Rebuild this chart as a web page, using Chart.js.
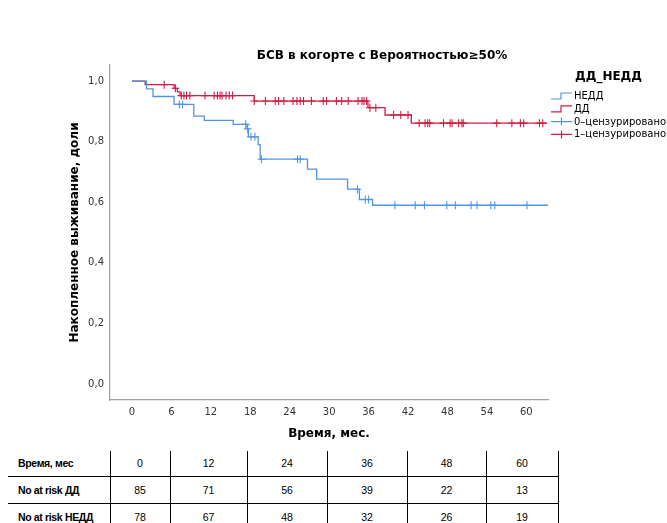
<!DOCTYPE html>
<html>
<head>
<meta charset="utf-8">
<script src="https://cdn.jsdelivr.net/npm/chart.js@4/dist/chart.umd.min.js"></script>
<style>
  html, body { margin: 0; padding: 0; background: #fff; }
  #page { position: relative; width: 667px; height: 523px; overflow: hidden; }
  #box { position: absolute; left: 0; top: 0; width: 667px; height: 448px; }
  #risk { position: absolute; left: 8px; top: 451px; border-collapse: collapse; table-layout: fixed;
          font-family: "Liberation Sans Narrow", "Liberation Sans", sans-serif;
          font-size: 10.5px; color: #000; }
  #risk td { padding: 0; text-align: center; border-left: 1.5px solid #000; border-bottom: 1.5px solid #000;
             box-sizing: border-box; white-space: nowrap; }
  #risk td:first-child { text-align: left; padding-left: 10px; font-weight: bold; border-left: none;
                         letter-spacing: -0.35px; }
  #risk td:last-child { border-right: 1.5px solid #000; }
  #risk tr:last-child td { border-bottom: none; }
</style>
</head>
<body>
<div id="page">
  <div id="box"><canvas id="km"></canvas></div>
  <table id="risk"></table>
</div>
<script>
// Kaplan–Meier curves: event times and survival after each step
const timeTicks = [0, 6, 12, 18, 24, 30, 36, 42, 48, 54, 60];
const survTicks = [0, 0.2, 0.4, 0.6, 0.8, 1.0];

const ddTimes = [0, 2.0, 6.4, 6.9, 7.3, 18.6, 35.9, 38.5, 42.5, 63.1];
const ddSurv  = [1, 0.988, 0.976, 0.964, 0.952, 0.934, 0.912, 0.888, 0.861, 0.861];
const ddCensored = [4.9, 6.6, 7.5, 7.9, 8.3, 8.8, 11.1, 12.5, 13.0, 13.4, 13.7, 14.3, 14.8, 15.3,
  18.6, 20.3, 21.8, 22.3, 23.1, 24.5, 25.1, 25.6, 26.1, 27.3, 29.1, 29.6, 31.1, 31.9, 32.9,
  34.4, 35.0, 35.3, 35.7, 36.2, 37.1, 39.8, 40.9, 42.0, 43.7, 44.6, 45.0, 45.3, 47.4, 48.4,
  48.7, 49.7, 50.2, 50.4, 55.5, 57.8, 59.1, 59.6, 62.0, 62.5];

const neddTimes = [0, 2.2, 3.2, 6.4, 9.4, 11.0, 15.4, 17.5, 17.7, 19.2, 19.5, 26.7, 28.1, 32.8, 34.6, 36.6, 63.3];
const neddSurv  = [1, 0.974, 0.949, 0.923, 0.884, 0.870, 0.857, 0.842, 0.816, 0.790, 0.742, 0.709, 0.676, 0.643, 0.609, 0.590, 0.590];
const neddCensored = [7.2, 7.7, 17.3, 17.6, 18.1, 18.7, 19.7, 25.2, 25.6, 34.3, 35.5, 36.0,
  40.0, 43.1, 44.5, 47.9, 49.2, 51.6, 52.5, 54.6, 55.2, 60.1];

// Numbers at risk
const riskHeader = 'Время, мес';
const riskTimes = [0, 12, 24, 36, 48, 60];
const riskDDLabel = 'No at risk ДД';
const riskDD = [85, 71, 56, 39, 22, 13];
const riskNEDDLabel = 'No at risk НЕДД';
const riskNEDD = [78, 67, 48, 32, 26, 19];

const BLUE = '#5296e2';
const RED = '#d31c45';
const FONT = '"DejaVu Sans", sans-serif';

// value of a step curve at time t
function survAt(times, surv, t) {
  let v = surv[0];
  for (let i = 0; i < times.length; i++) if (times[i] <= t) v = surv[i];
  return v;
}
const curve = (times, surv) => times.map((t, i) => ({ x: t, y: surv[i] }));
const marks = (cens, times, surv) => cens.map(t => ({ x: t, y: survAt(times, surv, t) }));

// at-risk table
(function buildTable() {
  const widths = [102, 60, 77, 80, 80, 79, 72];
  const heights = [25, 27, 27];
  const rows = [[riskHeader, ...riskTimes], [riskDDLabel, ...riskDD], [riskNEDDLabel, ...riskNEDD]];
  const tbl = document.getElementById('risk');
  rows.forEach((r, ri) => {
    const tr = document.createElement('tr');
    r.forEach((c, ci) => {
      const td = document.createElement('td');
      td.textContent = c;
      td.style.width = widths[ci] + 'px';
      td.style.minWidth = widths[ci] + 'px';
      td.style.maxWidth = widths[ci] + 'px';
      td.style.height = heights[ri] + 'px';
      tr.appendChild(td);
    });
    tbl.appendChild(tr);
  });
})();

// title and legend drawn beside the plot
const annotate = {
  id: 'annotate',
  afterDraw(chart) {
    const ctx = chart.ctx;
    ctx.save();
    ctx.fillStyle = '#000';
    ctx.textBaseline = 'middle';
    ctx.textAlign = 'center';
    ctx.font = 'bold 12px ' + FONT;
    ctx.fillText('БСВ в когорте с Вероятностью≥50%', 382, 56);

    ctx.textAlign = 'left';
    ctx.font = 'bold 12px ' + FONT;
    ctx.fillText('ДД_НЕДД', 575, 77);

    const items = [
      { text: 'НЕДД', color: BLUE, kind: 'step' },
      { text: 'ДД', color: RED, kind: 'step' },
      { text: '0–цензурировано', color: BLUE, kind: 'cross' },
      { text: '1–цензурировано', color: RED, kind: 'cross' }
    ];
    ctx.font = '10px ' + FONT;
    items.forEach((it, i) => {
      const y = 96 + i * 12.8;
      ctx.strokeStyle = it.color;
      ctx.lineWidth = 1.2;
      ctx.beginPath();
      if (it.kind === 'step') {
        ctx.moveTo(551, y + 3); ctx.lineTo(561, y + 3); ctx.lineTo(561, y - 3); ctx.lineTo(572, y - 3);
      } else {
        ctx.moveTo(551, y); ctx.lineTo(572, y);
        ctx.moveTo(561.5, y - 4); ctx.lineTo(561.5, y + 4);
      }
      ctx.stroke();
      ctx.fillStyle = '#000';
      ctx.fillText(it.text, 574, y + 0.5);
    });
    ctx.restore();
  }
};

new Chart(document.getElementById('km'), {
  data: {
    datasets: [
      { type: 'line', label: 'НЕДД', data: curve(neddTimes, neddSurv), stepped: 'before',
        borderColor: BLUE, borderWidth: 1.3, pointRadius: 0, fill: false },
      { type: 'line', label: 'ДД', data: curve(ddTimes, ddSurv), stepped: 'before',
        borderColor: RED, borderWidth: 1.3, pointRadius: 0, fill: false },
      { type: 'scatter', label: '0–цензурировано', data: marks(neddCensored, neddTimes, neddSurv),
        pointStyle: 'cross', pointRadius: 4, borderColor: BLUE, borderWidth: 1.1, backgroundColor: BLUE },
      { type: 'scatter', label: '1–цензурировано', data: marks(ddCensored, ddTimes, ddSurv),
        pointStyle: 'cross', pointRadius: 4, borderColor: RED, borderWidth: 1.1, backgroundColor: RED }
    ]
  },
  options: {
    responsive: true,
    maintainAspectRatio: false,
    animation: false,
    events: [],
    layout: { padding: { top: 65, right: 119, left: 62, bottom: 0 } },
    plugins: { legend: { display: false }, title: { display: false }, tooltip: { enabled: false } },
    scales: {
      x: {
        type: 'linear', min: -3.35, max: 63.3,
        afterBuildTicks: s => { s.ticks = timeTicks.map(v => ({ value: v })); },
        afterFit: s => { s.height = 48; },
        grid: { display: false, drawTicks: false },
        border: { display: true, color: '#a0a0a0', width: 1.2 },
        ticks: { padding: 6, color: '#333', font: { family: FONT, size: 10 } },
        title: { display: true, text: 'Время, мес.', color: '#000',
                 font: { family: FONT, size: 12, weight: 'bold' }, padding: { top: 0, bottom: 7 } }
      },
      y: {
        type: 'linear', min: -0.053, max: 1.053,
        afterBuildTicks: s => { s.ticks = survTicks.map(v => ({ value: v })); },
        afterFit: s => { s.width = 48; },
        grid: { display: false, drawTicks: false },
        border: { display: true, color: '#a0a0a0', width: 1.2 },
        ticks: { padding: 6, color: '#333', font: { family: FONT, size: 10 },
                 callback: v => v.toFixed(1).replace('.', ',') },
        title: { display: true, text: 'Накопленное выживание, доли', color: '#000',
                 font: { family: FONT, size: 12, weight: 'bold' }, padding: { top: 6, bottom: 0 } }
      }
    }
  },
  plugins: [annotate]
});
</script>
</body>
</html>
